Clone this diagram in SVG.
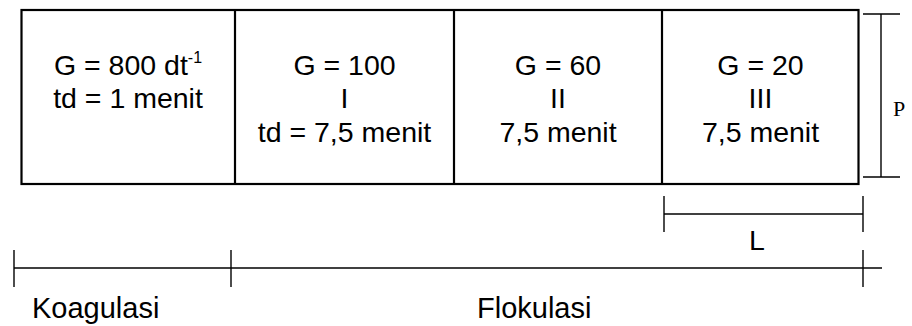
<svg xmlns="http://www.w3.org/2000/svg" width="912" height="326" viewBox="0 0 912 326">
  <style>
    .box { fill: none; stroke: #000; stroke-width: 2.2; }
    .dim { fill: none; stroke: #000; stroke-width: 1.4; }
    .t { font-family: "Liberation Sans", Arial, sans-serif; font-size: 28.5px; fill: #000; text-anchor: middle; }
    .lbl { font-family: "Liberation Sans", Arial, sans-serif; font-size: 29px; fill: #000; }
    .sup { font-size: 16px; }
    .p { font-family: "Liberation Serif", "Times New Roman", serif; font-size: 22px; fill: #000; }
  </style>
  <rect x="0" y="0" width="912" height="326" fill="#fff"/>

  <!-- tank compartments -->
  <g id="tank">
    <rect class="box" x="21.5" y="10" width="837" height="174"/>
    <line class="box" x1="235" y1="10" x2="235" y2="184"/>
    <line class="box" x1="454" y1="10" x2="454" y2="184"/>
    <line class="box" x1="662" y1="10" x2="662" y2="184"/>
  </g>

  <g id="coagulation">
    <text class="t" x="128" y="75">G = 800 dt<tspan class="sup" dy="-12">-1</tspan></text>
    <text class="t" x="128" y="108">td = 1 menit</text>
  </g>

  <g id="stage-1">
    <text class="t" x="344.5" y="75">G = 100</text>
    <text class="t" x="344.5" y="108">I</text>
    <text class="t" x="344.5" y="142">td = 7,5 menit</text>
  </g>

  <g id="stage-2">
    <text class="t" x="558" y="75">G = 60</text>
    <text class="t" x="558" y="108">II</text>
    <text class="t" x="558" y="142">7,5 menit</text>
  </g>

  <g id="stage-3">
    <text class="t" x="760.5" y="75">G = 20</text>
    <text class="t" x="760.5" y="108">III</text>
    <text class="t" x="760.5" y="142">7,5 menit</text>
  </g>

  <!-- dimension lines -->
  <g id="dimensions">
    <!-- height P -->
    <line class="dim" x1="881" y1="14" x2="881" y2="177"/>
    <line class="dim" x1="863" y1="14" x2="900" y2="14"/>
    <line class="dim" x1="863" y1="177" x2="900" y2="177"/>
    <!-- length L -->
    <line class="dim" x1="664" y1="214" x2="863" y2="214"/>
    <line class="dim" x1="664" y1="196" x2="664" y2="232"/>
    <line class="dim" x1="863" y1="196" x2="863" y2="232"/>
    <!-- process stages -->
    <line class="dim" x1="14" y1="268" x2="882" y2="268"/>
    <line class="dim" x1="14" y1="250" x2="14" y2="287"/>
    <line class="dim" x1="231" y1="250" x2="231" y2="287"/>
    <line class="dim" x1="863" y1="250" x2="863" y2="287"/>
  </g>

  <g id="labels">
    <text class="p" x="893" y="116">P</text>
    <text class="t" x="757" y="250">L</text>
    <text class="lbl" x="32" y="318">Koagulasi</text>
    <text class="lbl" x="477" y="318">Flokulasi</text>
  </g>
</svg>
